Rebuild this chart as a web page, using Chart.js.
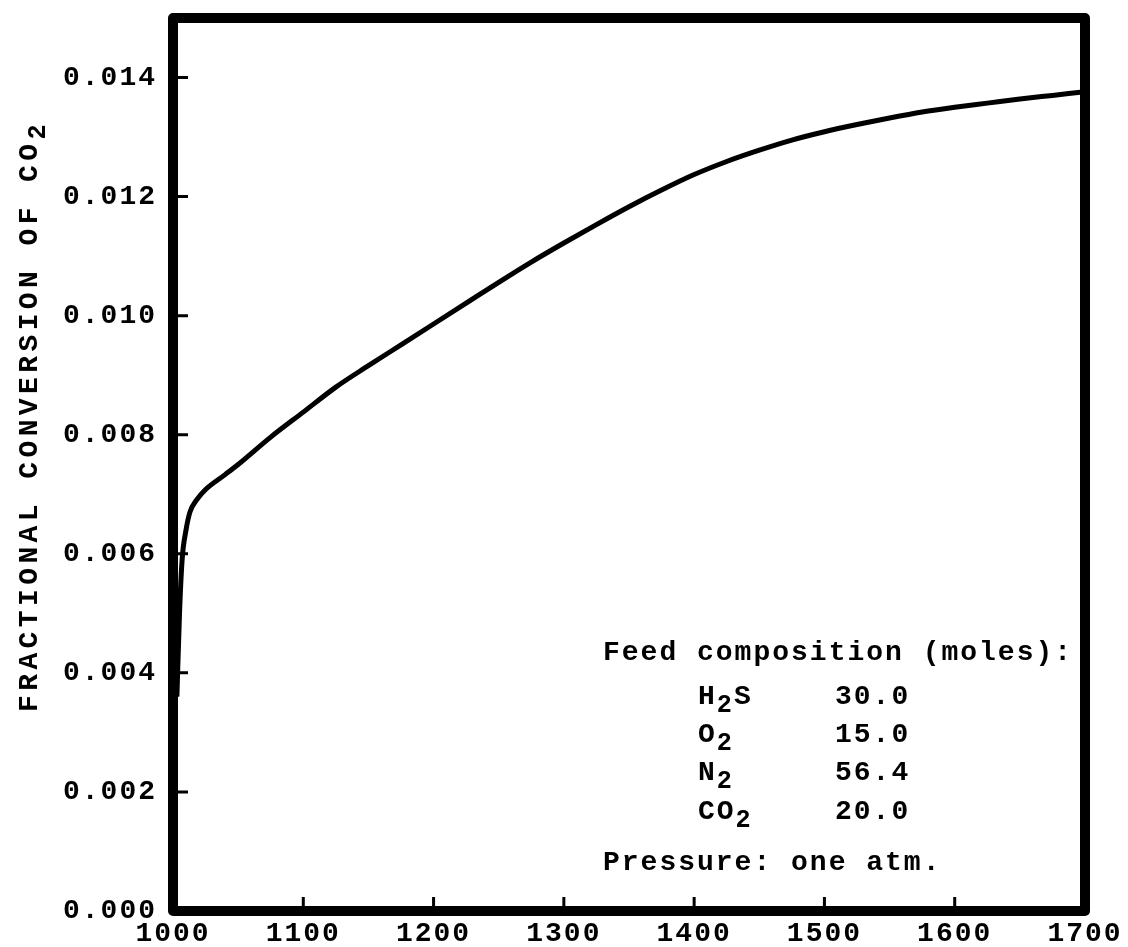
<!DOCTYPE html>
<html>
<head>
<meta charset="utf-8">
<script src="https://cdn.jsdelivr.net/npm/chart.js@4/dist/chart.umd.min.js"></script>
<style>
  html, body { margin: 0; padding: 0; background: #fff; }
  #wrap { position: relative; width: 1128px; height: 947px; }
  canvas { position: absolute; left: 0; top: 0; }
  .mono { font-family: "Liberation Mono", "DejaVu Sans Mono", monospace; font-weight: bold; color: #000; }
  .ytitle { position: absolute; left: 30px; top: 416px; transform: translate(-50%, -50%) rotate(-90deg);
            white-space: nowrap; font-size: 28px; letter-spacing: 4.4px; line-height: 28px; }
  .note { position: absolute; font-size: 28px; letter-spacing: 2px; line-height: 28px; white-space: nowrap; }
  sub { font-size: 0.9em; position: relative; top: 8px; vertical-align: baseline; line-height: 0; }
</style>
</head>
<body>
<div id="wrap">
  <canvas id="c" width="1128" height="947"></canvas>
  <div class="mono ytitle">FRACTIONAL CONVERSION OF CO<sub>2</sub></div>
  <div class="mono note" style="left:603px; top:639px;">Feed composition (moles):</div>
  <div class="mono note" style="left:698px; top:683px;">H<sub>2</sub>S</div>
  <div class="mono note" style="left:835px; top:683px;">30.0</div>
  <div class="mono note" style="left:698px; top:721px;">O<sub>2</sub></div>
  <div class="mono note" style="left:835px; top:721px;">15.0</div>
  <div class="mono note" style="left:698px; top:759px;">N<sub>2</sub></div>
  <div class="mono note" style="left:835px; top:759px;">56.4</div>
  <div class="mono note" style="left:698px; top:798px;">CO<sub>2</sub></div>
  <div class="mono note" style="left:835px; top:798px;">20.0</div>
  <div class="mono note" style="left:603px; top:849px;">Pressure: one atm.</div>
</div>
<script>
// ---- data ----
const temperature = [1003, 1005, 1007, 1010, 1013, 1018, 1025, 1040, 1050, 1075, 1100, 1125, 1150, 1175, 1200,
                     1225, 1250, 1275, 1300, 1325, 1350, 1375, 1400, 1425, 1450, 1475, 1500, 1525, 1550, 1575,
                     1600, 1625, 1650, 1675, 1700];
const conversion  = [0.0036, 0.0050, 0.0059, 0.0064, 0.0067, 0.0069, 0.00708, 0.00733, 0.0075, 0.00796, 0.00838,
                     0.00880, 0.00916, 0.00951, 0.00986, 0.01021, 0.01056, 0.01090, 0.01122, 0.01153, 0.01183,
                     0.01211, 0.01237, 0.01259, 0.01278, 0.01295, 0.01309, 0.01321, 0.01332, 0.01342, 0.01350,
                     0.01357, 0.01364, 0.01370, 0.01376];
const xTickValues = [1000, 1100, 1200, 1300, 1400, 1500, 1600, 1700];
const yTickValues = [0.000, 0.002, 0.004, 0.006, 0.008, 0.010, 0.012, 0.014];

const FONT = { family: '"Liberation Mono", "DejaVu Sans Mono", monospace', size: 28, weight: 'bold' };

const framePlugin = {
  id: 'frame',
  beforeDraw(chart) { chart.ctx.letterSpacing = '2px'; },
  afterDatasetsDraw(chart) {
    const { ctx, chartArea: a, scales } = chart;
    ctx.save();
    ctx.letterSpacing = '0px';
    ctx.strokeStyle = '#000';
    // inward tick marks
    ctx.lineWidth = 3;
    ctx.beginPath();
    scales.y.ticks.forEach(t => {
      const y = scales.y.getPixelForValue(t.value);
      ctx.moveTo(a.left, y); ctx.lineTo(a.left + 15, y);
    });
    scales.x.ticks.forEach(t => {
      const x = scales.x.getPixelForValue(t.value);
      ctx.moveTo(x, a.bottom); ctx.lineTo(x, a.bottom - 14);
    });
    ctx.stroke();
    // heavy frame
    ctx.lineWidth = 10;
    ctx.lineJoin = 'round';
    ctx.strokeRect(a.left, a.top, a.right - a.left, a.bottom - a.top);
    ctx.restore();
  }
};

new Chart(document.getElementById('c'), {
  type: 'line',
  data: {
    datasets: [{
      data: temperature.map((t, i) => ({ x: t, y: conversion[i] })),
      borderColor: '#000',
      borderWidth: 5,
      pointRadius: 0,
      cubicInterpolationMode: 'monotone',
      fill: false
    }]
  },
  options: {
    responsive: false,
    animation: false,
    devicePixelRatio: 1,
    layout: { padding: { left: 0, top: 18, right: 43, bottom: 0 } },
    plugins: { legend: { display: false }, tooltip: { enabled: false } },
    scales: {
      x: {
        type: 'linear', min: 1000, max: 1700,
        afterBuildTicks: s => { s.ticks = xTickValues.map(v => ({ value: v })); },
        afterFit: s => { s.height = 36; s.paddingLeft = 0; s.paddingRight = 0; },
        grid: { display: false, drawTicks: false },
        border: { display: false },
        ticks: { color: '#000', font: FONT, padding: 6, maxRotation: 0, autoSkip: false,
                 callback: v => String(v) }
      },
      y: {
        type: 'linear', min: 0, max: 0.015,
        afterBuildTicks: s => { s.ticks = yTickValues.map(v => ({ value: v })); },
        afterFit: s => { s.width = 173; s.paddingTop = 0; s.paddingBottom = 0; },
        grid: { display: false, drawTicks: false },
        border: { display: false },
        ticks: { color: '#000', font: FONT, padding: 16, autoSkip: false,
                 callback: v => Number(v).toFixed(3) }
      }
    }
  },
  plugins: [framePlugin]
});
</script>
</body>
</html>
